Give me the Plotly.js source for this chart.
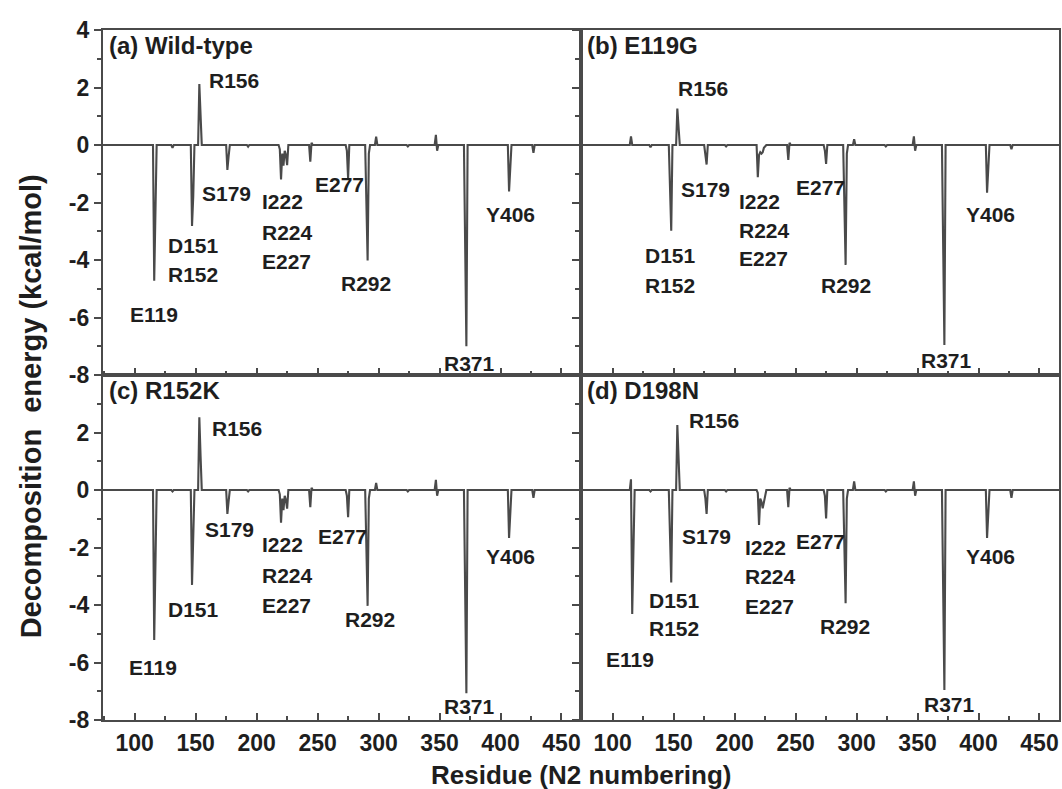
<!DOCTYPE html>
<html><head><meta charset="utf-8">
<script src="https://cdn.plot.ly/plotly-3.0.1.min.js"></script>
<style>html,body{margin:0;padding:0;background:#fff;} #chart{width:1062px;height:789px;}</style>
</head><body><div id="chart"></div>
<script>
// Residue numbers (x) shared by all four panels
const residues = [74, 114,115,116,117,118, 130,131,132, 146,147,148,149, 152,153,154,155,
  175,176,177,178, 192,193,194, 218,219,220,221,222,223,224,225,226, 243,244,245,246,
  273,274,275,276, 289,290,291,292,293, 297,298,299, 323,324,325, 346,347,348,349,
  370,371,372,373, 406,407,408,409, 426,427,428, 466];

// Decomposition energy (kcal/mol) per residue
const wildType = [0, 0,0,-4.72,-2.3,0, 0,-0.1,0, 0,-2.82,-1.8,0, 0,2.12,1.0,0,
  0,-0.87,-0.4,0, 0,-0.06,0, 0,-0.15,-1.2,-0.3,-0.72,-0.2,-0.35,-0.7,0, 0,-0.58,0.08,0,
  0,-0.2,-1.16,0, 0,-2.0,-4.02,-0.3,0, 0,0.29,0, 0,-0.05,0, 0,0.35,-0.2,0,
  0,-3.45,-7.0,0, 0,-1.62,-0.85,0, 0,-0.27,0, 0];
const e119g = [0, 0,0.3,0,0,0, 0,-0.08,0, 0,-1.5,-2.98,0, 0,1.27,0.5,0,
  0,-0.3,-0.68,0, 0,-0.05,0, 0,-1.12,-0.35,-0.25,-0.3,-0.25,-0.1,-0.05,0, 0,-0.52,0.08,0,
  0,-0.2,-0.66,0, 0,-2.0,-4.17,-0.3,0, 0,0.2,0, 0,-0.05,0, 0,0.3,-0.2,0,
  0,-3.4,-6.96,0, 0,-1.66,-0.85,0, 0,-0.15,0, 0];
const r152k = [0, 0,0,-5.22,-2.55,0, 0,-0.05,0, 0,-3.3,-1.6,0, 0,2.53,1.2,0,
  0,-0.83,-0.4,0, 0,-0.05,0, 0,-0.15,-1.14,-0.3,-0.7,-0.2,-0.35,-0.65,0, 0,-0.6,0.08,0,
  0,-0.2,-0.95,0, 0,-2.0,-4.03,-0.3,0, 0,0.25,0, 0,-0.05,0, 0,0.35,-0.2,0,
  0,-3.5,-7.07,0, 0,-1.67,-0.85,0, 0,-0.27,0, 0];
const d198n = [0, 0,0.37,-4.31,-2.1,0, 0,-0.05,0, 0,-1.6,-3.22,0, 0,2.26,1.0,0,
  0,-0.3,-0.83,0, 0,-0.05,0, 0,-0.1,-1.22,-0.3,-0.4,-0.64,-0.4,-0.1,0, 0,-0.6,0.08,0,
  0,-0.2,-0.99,0, 0,-2.0,-3.94,-0.3,0, 0,0.3,0, 0,-0.05,0, 0,0.3,-0.2,0,
  0,-3.5,-6.96,0, 0,-1.67,-0.85,0, 0,-0.27,0, 0];

const panelNames = ['(a) Wild-type', '(b) E119G', '(c) R152K', '(d) D198N'];

// residue labels per panel: [text, residue position, energy position]
const labelsA = [['R156',159,2.23],['S179',153.4,-1.7],['I222',202.5,-1.98],['R224',202.5,-3.03],['E227',202.5,-4.06],
  ['D151',126,-3.51],['R152',126,-4.5],['E119',94.7,-5.91],['E277',246,-1.39],['R292',267.4,-4.81],['Y406',386.6,-2.43],['R371',352,-7.59]];
const labelsB = [['R156',151.7,1.97],['S179',154.4,-1.54],['I222',202,-1.95],['R224',202,-2.96],['E227',202,-3.94],
  ['D151',125,-3.86],['R152',125,-4.87],['E277',249,-1.49],['R292',269,-4.87],['Y406',388.2,-2.43],['R371',350.8,-7.48]];
const labelsC = [['R156',162,2.15],['S179',156,-1.37],['I222',203,-1.91],['R224',203,-2.96],['E227',203,-4.0],
  ['D151',126,-4.17],['E119',93.4,-6.17],['E277',248.3,-1.6],['R292',270.6,-4.52],['Y406',386.6,-2.3],['R371',352,-7.54]];
const labelsD = [['R156',161,2.43],['S179',155,-1.62],['I222',206.8,-1.99],['R224',206.8,-3.02],['E227',206.8,-4.06],
  ['D151',128.3,-3.83],['R152',128.3,-4.81],['E119',92.8,-5.91],['E277',249,-1.8],['R292',268.2,-4.75],['Y406',388.2,-2.3],['R371',353.6,-7.45]];

const lineColor = '#4a4a4a';
const textColor = '#1e1e1e';
const fam = '"Liberation Sans", Arial, sans-serif';
const tickFont = {family: fam, size: 23, color: textColor, weight: 'bold'};
const hyphenAlias = {'\u22122': '-2', '\u22124': '-4', '\u22126': '-6', '\u22128': '-8'};

const series = [wildType, e119g, r152k, d198n];
const axIds = ['', '2', '3', '4'];
const traces = series.map((vals, i) => ({
  type: 'scatter', mode: 'lines', x: residues, y: vals,
  xaxis: 'x' + axIds[i], yaxis: 'y' + axIds[i],
  line: {color: lineColor, width: 2.1}, hoverinfo: 'skip', showlegend: false
}));

function xAxis(domain, anchor, labels) {
  return {
    domain: domain, anchor: anchor, range: [74, 466],
    showline: true, mirror: true, linecolor: lineColor, linewidth: 2.2,
    ticks: 'inside', ticklen: 7, tickwidth: 2, tickcolor: lineColor,
    tickmode: 'linear', tick0: 0, dtick: 50, showticklabels: labels,
    minor: {tickmode: 'linear', tick0: 0, dtick: 25, ticks: 'inside', ticklen: 4, tickwidth: 1.6, tickcolor: lineColor, showgrid: false},
    showgrid: false, zeroline: false, tickfont: tickFont, ticklabelstandoff: 1
  };
}
// left panels: ticks pointing left with labels; right panels: ticks on their left edge pointing into the left panel, no labels
function yAxis(domain, anchor, left, hideTop) {
  const alias = Object.assign({}, hyphenAlias);
  if (hideTop) alias['4'] = ' ';
  return {
    domain: domain, anchor: anchor, range: [-8, 4],
    showline: true, mirror: true, linecolor: lineColor, linewidth: 2.2,
    showgrid: false, zeroline: false, tickfont: tickFont,
    ticks: 'outside', ticklen: 7, tickwidth: 2, tickcolor: lineColor,
    tickmode: 'linear', tick0: 0, dtick: 2, showticklabels: left, labelalias: alias,
    minor: {tickmode: 'linear', tick0: 0, dtick: 1, ticks: 'outside', ticklen: 4, tickwidth: 1.6, tickcolor: lineColor, showgrid: false}
  };
}

const annFont = {family: fam, size: 21, color: textColor, weight: 'bold'};
const annotations = [];
[labelsA, labelsB, labelsC, labelsD].forEach((list, i) => {
  const xr = 'x' + axIds[i], yr = 'y' + axIds[i];
  annotations.push({text: panelNames[i], xref: xr, yref: yr, x: 77, y: 3.45,
    xanchor: 'left', yanchor: 'middle', showarrow: false, font: {family: fam, size: 24, color: textColor, weight: 'bold'}});
  list.forEach(l => annotations.push({text: l[0], xref: xr, yref: yr, x: l[1], y: l[2],
    xanchor: 'left', yanchor: 'middle', showarrow: false, font: annFont}));
});
annotations.push({text: 'Residue (N2 numbering)', xref: 'paper', yref: 'paper', x: 0.5, y: -0.08,
  xanchor: 'center', yanchor: 'middle', showarrow: false, font: {family: fam, size: 26, color: textColor, weight: 'bold'}});
annotations.push({text: 'Decomposition\u00a0\u00a0energy (kcal/mol)', xref: 'paper', yref: 'paper', x: -0.075, y: 0.455,
  xanchor: 'center', yanchor: 'middle', textangle: -90, showarrow: false, font: {family: fam, size: 29, color: textColor, weight: 'bold'}});

const layout = {
  width: 1062, height: 789,
  margin: {l: 103, r: 3, t: 30, b: 69},
  paper_bgcolor: '#fff', plot_bgcolor: '#fff',
  showlegend: false,
  xaxis: xAxis([0, 0.5], 'y', false),
  yaxis: yAxis([0.5, 1], 'x', true, false),
  xaxis2: xAxis([0.5, 1], 'y2', false),
  yaxis2: yAxis([0.5, 1], 'x2', false, false),
  xaxis3: xAxis([0, 0.5], 'y3', true),
  yaxis3: yAxis([0, 0.5], 'x3', true, true),
  xaxis4: xAxis([0.5, 1], 'y4', true),
  yaxis4: yAxis([0, 0.5], 'x4', false, false),
  annotations: annotations
};

Plotly.newPlot('chart', traces, layout, {displayModeBar: false, staticPlot: true});
</script>
</body></html>
